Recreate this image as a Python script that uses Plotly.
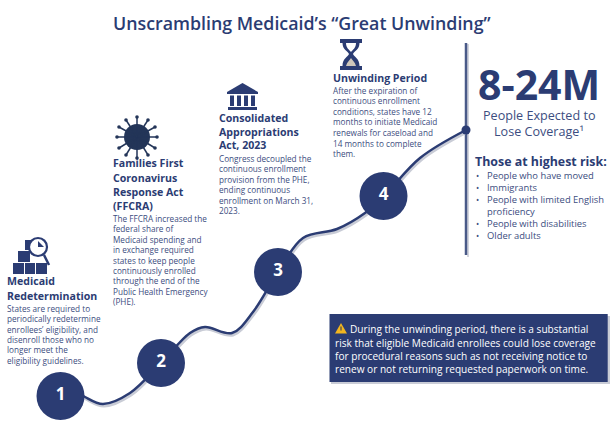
import plotly.graph_objects as go

NAVY = "#2b3c73"
DARK = "#233558"
BODY = "#3c4d80"
FONT = "Open Sans"

title = "Unscrambling Medicaid’s “Great Unwinding”"
curve_x = [60, 85, 103, 130, 161, 190, 205, 232, 253, 278, 303, 337, 365, 384, 420, 466]
curve_y = [380, 397, 404, 393, 363, 333, 327, 333, 312, 272, 238, 229, 213, 196, 158, 130]
step_x = [60.5, 161, 278, 383.5]
step_y = [396, 363, 272, 196]
step_labels = ["1", "2", "3", "4"]

blocks = [
    (7, ["Medicaid", "Redetermination"], [281, 296],
     ["States are required to", "periodically redetermine", "enrollees’ eligibility, and",
      "disenroll those who no", "longer meet the", "eligibility guidelines."],
     [308, 318.5, 329, 339, 349, 360]),
    (113, ["Families First", "Coronavirus", "Response Act", "(FFCRA)"], [163, 178, 192, 206],
     ["The FFCRA increased the", "federal share of", "Medicaid spending and",
      "in exchange required", "states to keep people", "continuously enrolled",
      "through the end of the", "Public Health Emergency", "(PHE)."],
     [218, 228, 239, 249, 260, 270, 280, 291, 301]),
    (219, ["Consolidated", "Appropriations", "Act, 2023"], [117.5, 132, 145],
     ["Congress decoupled the", "continuous enrollment", "provision from the PHE,",
      "ending continuous", "enrollment on March 31,", "2023."],
     [158, 168, 179, 189, 200, 210]),
    (333, ["Unwinding Period"], [78],
     ["After the expiration of", "continuous enrollment", "conditions, states have 12",
      "months to initiate Medicaid", "renewals for caseload and", "14 months to complete", "them."],
     [90.5, 100, 111, 121, 132, 143, 153]),
]

risk_items = ["People who have moved", "Immigrants", "People with limited English",
              "proficiency", "People with disabilities", "Older adults"]
risk_y = [175, 187, 199, 211, 223, 235]
risk_bullet = [True, True, True, False, True, True]

box_lines = ["During the unwinding period, there is a substantial",
             "risk that eligible Medicaid enrollees could lose coverage",
             "for procedural reasons such as not receiving notice to",
             "renew or not returning requested paperwork on time."]
box_y = [329, 343, 356, 369]

fig = go.Figure()
fig.add_trace(go.Scatter(x=[v + 1 for v in curve_x], y=[v + 2 for v in curve_y], mode="lines",
                         line=dict(color="#c9ccd6", width=3, shape="spline"), hoverinfo="skip"))
fig.add_trace(go.Scatter(x=curve_x, y=curve_y, mode="lines",
                         line=dict(color=NAVY, width=2.5, shape="spline"), hoverinfo="skip"))
fig.add_trace(go.Scatter(x=step_x, y=step_y, mode="markers+text", text=step_labels,
                         marker=dict(size=48, color=NAVY), textposition="middle center",
                         textfont=dict(family=FONT, size=17, color="white", weight="bold"),
                         hoverinfo="skip"))
fig.add_trace(go.Scatter(x=[466], y=[130], mode="markers", marker=dict(size=9, color=NAVY), hoverinfo="skip"))

shapes = []
def S(**k):
    k.setdefault("layer", "below")
    shapes.append(k)

S(type="line", x0=468, x1=468, y0=44, y1=257, line=dict(color="#d3d5dd", width=2))
S(type="line", x0=466, x1=466, y0=43, y1=255, line=dict(color="#4a5a88", width=2.5))
S(type="rect", x0=331, x1=610, y0=316, y1=384, line_width=0, fillcolor="#c9ccd6")
S(type="rect", x0=329.5, x1=607.7, y0=314, y1=382, line_width=0, fillcolor=NAVY)
S(type="path", path="M 341 323 L 347 333.5 L 335 333.5 Z", fillcolor="#f2b51f", line_width=0, layer="above")
S(type="line", x0=341, x1=341, y0=326.5, y1=330.5, line=dict(color=DARK, width=1), layer="above")

# hourglass icon
S(type="path", path="M 340 39 L 362 39 L 362 43 L 359.5 43 C 359.5 50 354 51 353 54 C 354 57 359.5 58 359.5 66 "
      "L 362 66 L 362 70 L 340 70 L 340 66 L 342.5 66 C 342.5 58 348 57 349 54 C 348 51 342.5 50 342.5 43 L 340 43 Z",
  fillcolor=NAVY, line_width=0)
S(type="path", path="M 346 43 L 356 43 C 356 48 352.5 50 351 52 C 349.5 50 346 48 346 43 Z", fillcolor="white", line_width=0)
S(type="path", path="M 351 58 C 352 60 355 62 356 66 L 346 66 C 347 62 350 60 351 58 Z", fillcolor="#cfc7bb", line_width=0)

# bank icon
S(type="path", path="M 242.5 83 L 258 92 L 258 94 L 227 94 L 227 92 Z", fillcolor=NAVY, line_width=0)
S(type="rect", x0=228, x1=257, y0=107, y1=110, fillcolor=NAVY, line_width=0)
for cx in [232, 239, 246, 253]:
    S(type="rect", x0=cx - 2, x1=cx + 2, y0=95.5, y1=106, fillcolor=NAVY, line_width=0)

# virus icon
S(type="circle", x0=124, x1=150, y0=124, y1=150, fillcolor=DARK, line_width=0)
spikes = [(137, 117), (148, 120), (155, 127), (157, 137), (155, 148), (148, 155), (137, 158),
          (126, 155), (119, 148), (117, 137), (119, 127), (126, 120)]
for sx, sy in spikes:
    S(type="line", x0=137, y0=137, x1=sx, y1=sy, line=dict(color=DARK, width=1.5))
    S(type="circle", x0=sx - 1.8, x1=sx + 1.8, y0=sy - 1.8, y1=sy + 1.8, fillcolor=DARK, line_width=0)

# boxes and magnifier icon
for x0, y0, x1, y1 in [(13, 263, 24, 274), (25, 263, 35, 274), (36, 263, 47, 274), (18, 251, 30, 262), (25, 240, 35, 250)]:
    S(type="rect", x0=x0, x1=x1, y0=y0, y1=y1, fillcolor=NAVY, line_width=0)
S(type="circle", x0=29, x1=47, y0=238, y1=256, fillcolor="white", line=dict(color=NAVY, width=2.2))
S(type="path", path="M 38 241 L 38 247 L 44 247 Z", fillcolor=NAVY, line_width=0)
S(type="line", x0=44, y0=255, x1=49, y1=265, line=dict(color=NAVY, width=2.5))

anns = []
def T(x, y, text, size, color=BODY, weight=400, anchor="left"):
    anns.append(dict(x=x - 2 if anchor == "left" else x, y=y, text=text, showarrow=False,
                     xanchor=anchor, yanchor="middle", xref="x", yref="y",
                     font=dict(family=FONT, size=size, color=color, weight=weight)))

T(301.5, 23, title, 17.8, NAVY, 600, "center")
for x, heads, head_y, body, body_y in blocks:
    for t, y in zip(heads, head_y):
        T(x, y, t, 10.6, NAVY, 700)
    for t, y in zip(body, body_y):
        T(x, y, t, 8.2)
T(539, 84, "8-24M", 41, NAVY, 700, "center")
T(539, 115, "People Expected to", 12.6, BODY, 400, "center")
T(539, 131, "Lose Coverage¹", 12.6, BODY, 400, "center")
T(475, 161, "Those at highest risk:", 12.4, NAVY, 700)
for t, y, b in zip(risk_items, risk_y, risk_bullet):
    if b:
        T(476, y, "•", 8.5)
    T(487, y, t, 9.4)
for i, (t, y) in enumerate(zip(box_lines, box_y)):
    T(350 if i == 0 else 335, y, t, 10.1, "white")

fig.update_layout(width=614, height=432, margin=dict(l=0, r=0, t=0, b=0), showlegend=False,
                  paper_bgcolor="white", plot_bgcolor="white", shapes=shapes, annotations=anns,
                  xaxis=dict(range=[0, 614], visible=False, fixedrange=True),
                  yaxis=dict(range=[432, 0], visible=False, fixedrange=True))
fig.write_html("out.html", config={"displayModeBar": False},
               post_script="document.body.style.margin='0';document.body.style.overflow='hidden';")
